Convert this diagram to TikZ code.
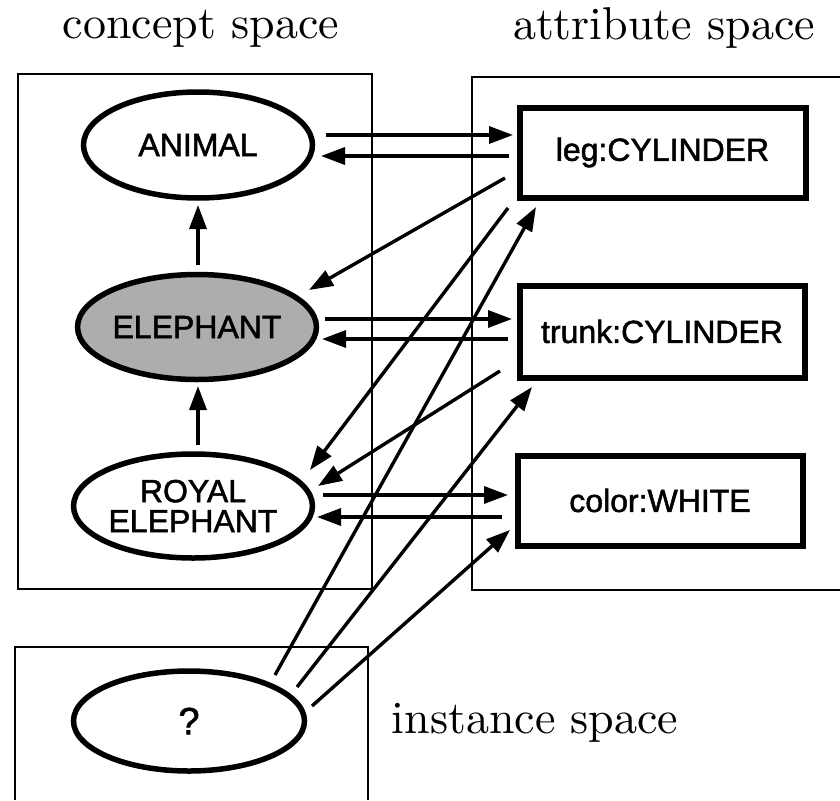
\documentclass[tikz,border=0pt]{standalone}
\usepackage{fontspec}
\setmainfont{Latin Modern Roman}
\newfontfamily\titlefont{lmroman10-regular.otf}
\newfontfamily\labelfont[FakeBold=1.6]{Liberation Sans}
\usetikzlibrary{shapes.geometric,arrows.meta}
\begin{document}
\begin{tikzpicture}[x=1pt,y=-1pt,
  spacebox/.style={line width=2.2pt},
  concept/.style={ellipse,draw,line width=5.5pt,inner sep=0pt,align=center,
    font=\labelfont\fontsize{32}{31}\selectfont},
  attr/.style={rectangle,draw,line width=6pt,inner sep=0pt,
    font=\labelfont\fontsize{32}{32}\selectfont},
  title/.style={anchor=base,inner sep=0pt,font=\titlefont\fontsize{46}{48}\selectfont},
  arr/.style={line width=3.4pt,-{Triangle[length=24pt,width=17pt]}}]
\useasboundingbox[fill=white] (0,0) rectangle (840,800);

% group boxes
\draw[spacebox] (18,74) rectangle (372,589);
\draw[spacebox] (840,77) -- (472,77) -- (472,590) -- (840,590);
\draw[spacebox] (15,800) -- (15,647) -- (368,647) -- (368,800);

% titles
\node[title] (tconcept) at (201,38) {concept space};
\node[title] (tattr) at (664,40) {attribute space};
\node[title] (tinst) at (535,733) {instance space};

% concept nodes
\node[concept,minimum width=229,minimum height=106] (animal) at (198,145) {ANIMAL};
\node[concept,fill=black!32,minimum width=232,minimum height=105] (elephant) at (197,327) {ELEPHANT};
\node[concept,minimum width=232,minimum height=104] (royal) at (193,506) {ROYAL\\[-1pt]ELEPHANT};
\node[concept,minimum width=231,minimum height=100,font=\labelfont\fontsize{38}{38}\selectfont] (query) at (189,721) {?};

% attribute nodes
\node[attr,minimum width=286,minimum height=90] (leg) at (662.5,152.5) {leg:CYLINDER};
\node[attr,minimum width=285,minimum height=92] (trunk) at (662,331.5) {trunk:CYLINDER};
\node[attr,minimum width=285,minimum height=90] (color) at (660,500.5) {color:WHITE};

% is-a arrows
\draw[arr] ([shift={(1,-62)}]elephant.center) -- ([shift={(0,60)}]animal.center);
\draw[arr] ([shift={(5,-61)}]royal.center) -- ([shift={(1,59)}]elephant.center);

% concept <-> attribute
\draw[arr] ([shift={(128,-10)}]animal.center) -- ([shift={(-149.5,-17.5)}]leg.center);
\draw[arr] ([shift={(-153.5,3.5)}]leg.center) -- ([shift={(123,11)}]animal.center);
\draw[arr] ([shift={(-157.5,25.5)}]leg.center) -- ([shift={(112,-37)}]elephant.center);
\draw[arr] ([shift={(-154.5,55.5)}]leg.center) -- ([shift={(117,-36)}]royal.center);

\draw[arr] ([shift={(128,-8)}]elephant.center) -- ([shift={(-150,-12.5)}]trunk.center);
\draw[arr] ([shift={(-154,7.5)}]trunk.center) -- ([shift={(125,12)}]elephant.center);
\draw[arr] ([shift={(-162,39.5)}]trunk.center) -- ([shift={(125,-20)}]royal.center);

\draw[arr] ([shift={(130,-11)}]royal.center) -- ([shift={(-152,-5.5)}]color.center);
\draw[arr] ([shift={(-158,16.5)}]color.center) -- ([shift={(124,11)}]royal.center);

% instance -> attributes
\draw[arr] ([shift={(86,-46)}]query.center) -- ([shift={(-126.5,54.5)}]leg.center);
\draw[arr] ([shift={(108,-34)}]query.center) -- ([shift={(-130,55.5)}]trunk.center);
\draw[arr] ([shift={(123,-15)}]query.center) -- ([shift={(-150,29.5)}]color.center);
\end{tikzpicture}
\end{document}
